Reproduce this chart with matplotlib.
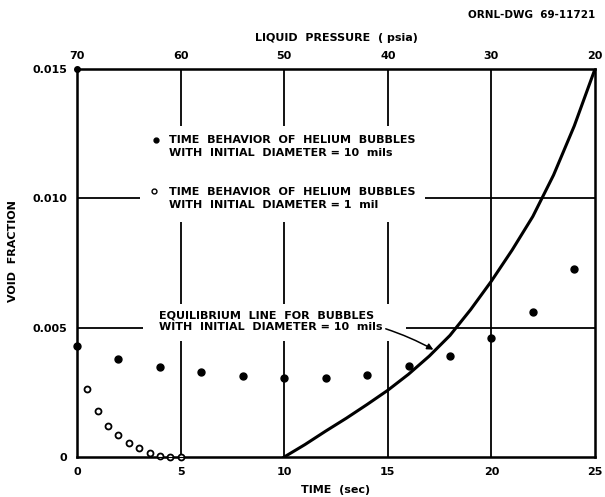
import matplotlib.pyplot as plt
from matplotlib.patches import Rectangle

# time behaviour of 10 mil bubbles (filled dots)
time_10mil = [0, 2, 4, 6, 8, 10, 12, 14, 16, 18, 20, 22, 24]
void_10mil = [0.00428, 0.00377, 0.00348, 0.00327, 0.00314, 0.00304, 0.00307,
              0.00317, 0.00350, 0.00391, 0.00460, 0.00562, 0.00725]

# time behaviour of 1 mil bubbles (open dots)
time_1mil = [0.5, 1.0, 1.5, 2.0, 2.5, 3.0, 3.5, 4.0, 4.5, 5.0]
void_1mil = [0.00261, 0.00179, 0.00120, 0.00085, 0.00053, 0.00034, 0.00014,
             0.00005, 0.00001, 0.0]

# equilibrium line for 10 mil bubbles
time_eq = [10, 11, 12, 13, 14, 15, 16, 17, 18, 19, 20, 21, 22, 23, 24, 25]
void_eq = [0.0, 0.00048, 0.00100, 0.00150, 0.00203, 0.00258, 0.00320, 0.00390,
           0.00470, 0.00570, 0.00680, 0.00800, 0.00930, 0.01090, 0.01280, 0.01500]

time_ticks = [0, 5, 10, 15, 20, 25]
pressure_labels = ["70", "60", "50", "40", "30", "20"]
void_ticks = [0, 0.005, 0.010, 0.015]
void_labels = ["0", "0.005", "0.010", "0.015"]

plt.rcParams["font.family"] = "DejaVu Sans"
plt.rcParams["font.size"] = 8
plt.rcParams["font.weight"] = "bold"
plt.rcParams["axes.labelweight"] = "bold"

fig = plt.figure(figsize=(6.05, 4.97), dpi=100)
ax = fig.add_axes([77 / 605, 1 - 457 / 497, 518 / 605, 388 / 497])
ax.set_xlim(0, 25)
ax.set_ylim(0, 0.015)

for t in time_ticks[1:-1]:
    ax.axvline(t, color="black", lw=1.3, zorder=1)
for v in void_ticks[1:-1]:
    ax.axhline(v, color="black", lw=1.3, zorder=1)

# white areas behind the text blocks hide the grid
ax.add_patch(Rectangle((3.05, 0.0091), 13.75, 0.0037, facecolor="white",
                       edgecolor="none", zorder=2))
ax.add_patch(Rectangle((3.2, 0.00447), 12.7, 0.00145, facecolor="white",
                       edgecolor="none", zorder=2))

ax.plot(time_eq, void_eq, color="black", lw=2.2, zorder=4)
ax.plot(time_10mil, void_10mil, "o", color="black", ms=5, zorder=5, clip_on=False)
ax.plot(time_1mil, void_1mil, "o", mfc="white", mec="black", mew=1.3, ms=4.3,
        zorder=5, clip_on=False)

ax.plot([0], [1], "o", color="black", ms=4, transform=ax.transAxes, clip_on=False, zorder=6)

ax.plot([3.79], [0.01226], "o", color="black", ms=3.5, zorder=4)
ax.text(4.42, 0.0120, "TIME  BEHAVIOR  OF  HELIUM  BUBBLES\nWITH  INITIAL  DIAMETER = 10  mils",
        va="center", ha="left", linespacing=1.3, zorder=4)
ax.plot([3.70], [0.01028], "o", mfc="white", mec="black", mew=1, ms=3.5, zorder=4)
ax.text(4.42, 0.0100, "TIME  BEHAVIOR  OF  HELIUM  BUBBLES\nWITH  INITIAL  DIAMETER = 1  mil",
        va="center", ha="left", linespacing=1.3, zorder=4)

ax.annotate("EQUILIBRIUM  LINE  FOR  BUBBLES\nWITH  INITIAL  DIAMETER = 10  mils",
            xy=(17.2, 0.00415), xytext=(3.98, 0.00525), va="center", ha="left",
            linespacing=1.3, zorder=4,
            arrowprops=dict(arrowstyle="-|>", color="black", lw=1.1,
                            shrinkA=0, shrinkB=0, mutation_scale=9,
                            relpos=(1.0, 0.2), connectionstyle="arc3,rad=-0.05"))

for side in ax.spines.values():
    side.set_linewidth(1.8)

ax.set_xticks(time_ticks)
ax.set_xticklabels([str(t) for t in time_ticks])
ax.set_yticks(void_ticks)
ax.set_yticklabels(void_labels)
ax.tick_params(length=0, pad=7)
ax.set_xlabel("TIME  (sec)", labelpad=6)
ax.set_ylabel("VOID  FRACTION")
ax.yaxis.set_label_coords(-0.114, 0.53)

top = ax.twiny()
top.set_xlim(0, 25)
top.set_xticks(time_ticks)
top.set_xticklabels(pressure_labels)
top.tick_params(length=0, pad=6)
top.set_xlabel("LIQUID  PRESSURE  ( psia)", labelpad=7)

fig.text(595 / 605, 1 - 15 / 497, "ORNL-DWG  69-11721", ha="right", va="center", fontsize=7.5)

fig.savefig("out.png", dpi=100)
